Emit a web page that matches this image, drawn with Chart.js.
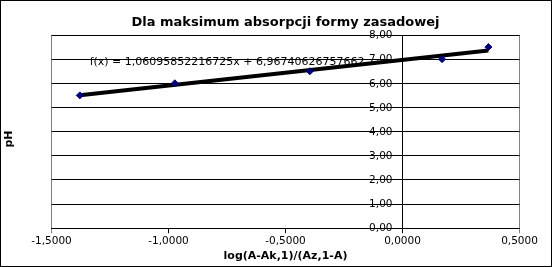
<!DOCTYPE html>
<html>
<head>
<meta charset="utf-8">
<script src="https://cdn.jsdelivr.net/npm/chart.js@4/dist/chart.umd.min.js"></script>
<style>
html,body{margin:0;padding:0;background:#fff;}
#wrap{width:552px;height:267px;position:relative;}
</style>
</head>
<body>
<div id="wrap"><canvas id="c" width="552" height="267"></canvas></div>
<script>
// ---- data ----
const xValues = [-1.379, -0.973, -0.396, 0.169, 0.367];   // log(A-Ak,1)/(Az,1-A)
const pHValues = [5.50, 6.00, 6.50, 7.00, 7.50];          // pH
const trendSlope = 1.06095852216725;
const trendIntercept = 6.96740626757662;
const equationText = 'f(x) = 1,06095852216725x + 6,96740626757662';
const chartTitle = 'Dla maksimum absorpcji formy zasadowej';
const xTitle = 'log(A-Ak,1)/(Az,1-A)';
const yTitle = 'pH';
const xTickMin = -1.5, xTickMax = 0.5, xTickStep = 0.5;
const yTickMin = 0, yTickMax = 8, yTickStep = 1;

const points = xValues.map((x, i) => ({x: x, y: pHValues[i]}));
const xMinData = Math.min(...xValues), xMaxData = Math.max(...xValues);
const trendPoints = [xMinData, xMaxData].map(x => ({x: x, y: trendSlope * x + trendIntercept}));

const FONT = "'DejaVu Sans', sans-serif";
const fmt = (v, d) => v.toFixed(d).replace('.', ',');

const decor = {
  id: 'decor',
  beforeDraw(chart) {
    const ctx = chart.ctx;
    ctx.save();
    ctx.fillStyle = '#fff';
    ctx.fillRect(0, 0, chart.width, chart.height);
    ctx.restore();
  },
  afterDatasetsDraw(chart) {
    const ctx = chart.ctx;
    const xs = chart.scales.x, ys = chart.scales.y;
    ctx.save();
    ctx.fillStyle = '#000';
    // y tick labels, just left of the y axis that crosses at x = 0
    ctx.font = '10.5px ' + FONT;
    ctx.textAlign = 'right';
    ctx.textBaseline = 'middle';
    const axisX = xs.getPixelForValue(0);
    ys.ticks.forEach(t => {
      ctx.fillText(fmt(t.value, 2), axisX - 10, ys.getPixelForValue(t.value) + 0.5);
    });
    // trend line equation
    ctx.font = '11px ' + FONT;
    ctx.textAlign = 'left';
    ctx.fillText(equationText, xs.getPixelForValue(-1.337), ys.getPixelForValue(6.88));
    ctx.restore();
  },
  afterDraw(chart) {
    const ctx = chart.ctx;
    ctx.save();
    ctx.fillStyle = '#000';
    ctx.font = 'bold 11px ' + FONT;
    ctx.translate(9.5, 139);
    ctx.rotate(-Math.PI / 2);
    ctx.textAlign = 'center';
    ctx.textBaseline = 'middle';
    ctx.fillText(yTitle, 0, 0);
    ctx.restore();
    ctx.save();
    ctx.strokeStyle = '#000';
    ctx.lineWidth = 1;
    ctx.strokeRect(0.5, 0.5, chart.width - 1, chart.height - 1);
    ctx.restore();
  }
};

const isEdge = v => Math.abs(v - xTickMin) < 1e-9 || Math.abs(v - xTickMax) < 1e-9;

new Chart(document.getElementById('c'), {
  type: 'scatter',
  data: {
    datasets: [
      {
        type: 'line',
        data: trendPoints,
        borderColor: '#000',
        borderWidth: 4,
        pointRadius: 0,
        fill: false,
        order: 2
      },
      {
        data: points,
        pointStyle: 'rectRot',
        pointRadius: 3.5,
        backgroundColor: '#000080',
        borderColor: '#000080',
        borderWidth: 1,
        order: 1
      }
    ]
  },
  plugins: [decor],
  options: {
    responsive: false,
    animation: false,
    devicePixelRatio: 1,
    layout: {padding: {left: 51.5, right: 32.5, top: 0, bottom: 0}},
    plugins: {
      legend: {display: false},
      tooltip: {enabled: false},
      title: {
        display: true,
        text: chartTitle,
        color: '#000',
        font: {family: FONT, size: 13, weight: 'bold'},
        padding: {top: 15, bottom: 4.4}
      }
    },
    scales: {
      x: {
        type: 'linear',
        position: 'bottom',
        min: xTickMin, max: xTickMax,
        ticks: {
          stepSize: xTickStep,
          color: '#000',
          font: {family: FONT, size: 10.5},
          padding: 2,
          maxRotation: 0,
          callback: v => fmt(v, 4)
        },
        grid: {
          drawTicks: true,
          tickLength: 5,
          color: c => isEdge(c.tick.value) ? '#808080' : 'rgba(0,0,0,0)',
          tickColor: c => isEdge(c.tick.value) ? '#808080' : '#000',
          lineWidth: 1
        },
        border: {display: true, color: '#000'},
        title: {
          display: true,
          text: xTitle,
          color: '#000',
          font: {family: FONT, size: 11, weight: 'bold'},
          padding: {top: 0, bottom: 4}
        }
      },
      y: {
        type: 'linear',
        position: {x: 0},
        min: yTickMin, max: yTickMax,
        ticks: {
          stepSize: yTickStep,
          display: false
        },
        grid: {
          drawTicks: false,
          color: '#000',
          lineWidth: 1
        },
        border: {display: true, color: '#000'}
      }
    }
  }
});
</script>
</body>
</html>
